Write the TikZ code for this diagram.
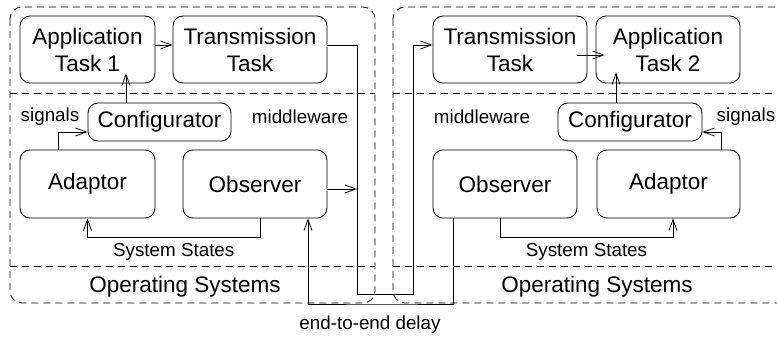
\documentclass[tikz,border=0pt]{standalone}
\usepackage{fontspec}
\setmainfont{Liberation Sans}
\usetikzlibrary{arrows.meta}
\begin{document}
\begin{tikzpicture}[x=1pt,y=-1pt,line width=0.8pt,
    >={Straight Barb[length=11pt,width=8pt]},
    task/.style={draw,rounded corners=10pt,align=center,inner sep=0pt,font=\fontsize{22.5}{27}\selectfont},
    lbl/.style={inner sep=0pt,font=\fontsize{18.8}{21}\selectfont},
    oslbl/.style={inner sep=0pt,font=\fontsize{22.5}{27}\selectfont},
    zone/.style={dash pattern=on 7pt off 5pt}]
\useasboundingbox (0,0) rectangle (777,339);
% the two hosts
\draw[zone,rounded corners=12pt] (10,7) rectangle (375,303);
\draw[zone,rounded corners=12pt] (393,7) rectangle (830,303);
\draw[zone] (10,93) -- (375,93);
\draw[zone] (10,266) -- (375,266);
\draw[zone] (393,93) -- (777,93);
\draw[zone] (393,266) -- (777,266);
% sender side
\node[task,minimum width=135pt,minimum height=67pt] (app1) at (87.5,49.5) {Application\\Task 1};
\node[task,minimum width=154pt,minimum height=67pt] (tx1) at (250,49.5) {Transmission\\Task};
\node[task,minimum width=143pt,minimum height=38pt] (conf1) at (159.5,122) {Configurator};
\node[task,minimum width=135pt,minimum height=68pt] (adp1) at (87.5,184) {Adaptor};
\node[task,minimum width=144pt,minimum height=68pt] (obs1) at (255,184) {Observer};
% receiver side
\node[task,minimum width=154pt,minimum height=67pt] (tx2) at (510,49.5) {Transmission\\Task};
\node[task,minimum width=144pt,minimum height=67pt] (app2) at (668,49.5) {Application\\Task 2};
\node[task,minimum width=144pt,minimum height=38pt] (conf2) at (630,122) {Configurator};
\node[task,minimum width=144pt,minimum height=68pt] (obs2) at (505,184) {Observer};
\node[task,minimum width=143pt,minimum height=68pt] (adp2) at (668.5,184) {Adaptor};
% texts
\node[lbl] (sig1) at (50,117) {signals};
\node[lbl] (mw1) at (300,117) {middleware};
\node[lbl] (mw2) at (482,117) {middleware};
\node[lbl] (sig2) at (746,117) {signals};
\node[oslbl] (os1) at (185,287) {Operating Systems};
\node[oslbl] (os2) at (597,287) {Operating Systems};
\node[lbl] (dlylbl) at (370,325) {end-to-end delay};
% network path
\coordinate (lnkB) at (357,294);
\coordinate (lnkC) at (413,294);
\coordinate (dly) at (383,304);
\coordinate (ob1out) at ([yshift=-5pt]obs1.east);
% connectors, sender
\draw[->] ([yshift=4.5pt]app1.east) -- ([yshift=4.5pt]tx1.west);
\draw[->,shorten >=-10pt] ([xshift=-33.5pt]conf1.north) -- ([xshift=-33.5pt]conf1.north |- app1.south);
\draw[->] ([xshift=-29.5pt]adp1.north) |- ([yshift=-10pt]conf1.west);
\draw[->] ([xshift=5pt]obs1.south) -- ++(0,19) -| node[lbl,pos=0.25,below=6pt] {System States} (adp1.south);
\draw[->] (ob1out) -- (ob1out -| lnkB);
\draw[->] ([yshift=4.5pt]tx1.east) -| (lnkB) -- (lnkC) |- ([yshift=4.5pt]tx2.west);
% connectors, receiver
\draw[->,shorten <=-10pt,shorten >=-9pt] ([yshift=-5.5pt]tx2.east) -- ([yshift=-5.5pt]app2.west);
\draw[->,shorten >=-11pt] ([xshift=-14pt]conf2.north) -- ([xshift=-14pt]conf2.north |- app2.south);
\draw[->] ([xshift=52.5pt]adp2.north) |- ([yshift=-10pt]conf2.east);
\draw[->] ([xshift=-5pt]obs2.south) -- ++(0,19) -| node[lbl,pos=0.25,below=6pt] {System States} ([xshift=4.5pt]adp2.south);
\draw[->] ([xshift=-52pt]obs2.south) |- (dly) -| ([xshift=53pt]obs1.south);
\end{tikzpicture}
\end{document}
